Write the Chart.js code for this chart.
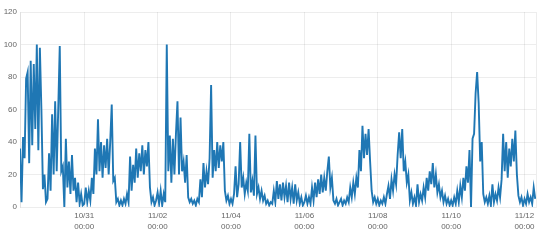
<!DOCTYPE html>
<html>
<head>
<meta charset="utf-8">
<script src="https://cdn.jsdelivr.net/npm/chart.js@4.4.1/dist/chart.umd.min.js"></script>
<style>
  html, body { margin: 0; padding: 0; background: #fff; }
  #wrap { width: 540px; height: 244px; position: relative; }
</style>
</head>
<body>
<div id="wrap"><canvas id="c"></canvas></div>
<script>
// Hours counted from 10/29 00:00; first sample at 10/29 06:00, one sample per hour.
const startHour = 6;
const axisMinHour = 6;
const axisMaxHour = 343.5;

// Hourly values
const day1029 = [36, 3, 43, 30, 79, 83, 27, 90, 38, 88, 48, 100, 35, 98, 60, 11, 20, 3];
const day1030 = [5, 33, 10, 57, 20, 65, 22, 60, 99, 22, 25, 0, 42, 12, 28, 8, 32, 10, 18, 3, 15, 2, 8, 1];
const day1031 = [2, 12, 3, 10, 4, 18, 8, 36, 20, 54, 22, 40, 18, 38, 24, 42, 20, 40, 63, 16, 18, 3, 5, 1];
const day1101 = [4, 1, 5, 2, 8, 3, 31, 10, 26, 15, 36, 18, 33, 22, 38, 20, 35, 25, 40, 12, 3, 6, 1, 4];
const day1102 = [9, 2, 10, 1, 8, 3, 100, 22, 44, 15, 42, 20, 45, 65, 20, 55, 22, 28, 15, 32, 6, 3, 5, 2];
const day1103 = [4, 1, 5, 3, 17, 6, 27, 12, 22, 14, 30, 75, 18, 35, 22, 40, 24, 38, 28, 40, 10, 4, 7, 2];
const day1104 = [5, 2, 8, 25, 6, 14, 40, 12, 18, 8, 15, 10, 45, 9, 16, 7, 44, 8, 12, 5, 10, 4, 7, 2];
const day1105 = [4, 1, 3, 2, 10, 3, 16, 5, 14, 4, 15, 6, 13, 3, 15, 5, 12, 2, 14, 4, 9, 2, 6, 1];
const day1106 = [3, 7, 2, 6, 2, 12, 4, 15, 6, 17, 8, 20, 9, 18, 10, 22, 31, 12, 18, 4, 2, 5, 1, 3];
const day1107 = [5, 1, 4, 2, 6, 3, 12, 6, 15, 8, 18, 12, 35, 22, 50, 30, 45, 32, 48, 28, 10, 3, 6, 2];
const day1108 = [5, 1, 4, 2, 6, 2, 8, 13, 5, 17, 10, 20, 14, 32, 46, 30, 48, 22, 28, 15, 20, 4, 9, 2];
const day1109 = [6, 1, 14, 3, 8, 4, 12, 6, 18, 10, 22, 14, 27, 12, 20, 9, 14, 6, 10, 3, 7, 2, 5, 1];
const day1110 = [4, 1, 6, 2, 10, 3, 13, 6, 18, 10, 25, 15, 35, 0, 42, 45, 70, 83, 64, 28, 40, 8, 3, 6];
const day1111 = [2, 7, 1, 14, 3, 8, 4, 12, 6, 17, 45, 22, 40, 18, 36, 25, 42, 28, 47, 20, 7, 3, 6, 1];
const day1112 = [5, 2, 8, 3, 6, 2, 12, 5];

const hourlyValues = [].concat(day1029, day1030, day1031, day1101, day1102, day1103, day1104,
  day1105, day1106, day1107, day1108, day1109, day1110, day1111, day1112);

// Tick labels (every two days at 00:00)
const tickHours = [48, 96, 144, 192, 240, 288, 336];
const tickDates = ['10/31', '11/02', '11/04', '11/06', '11/08', '11/10', '11/12'];
const tickTime = '00:00';

const yTicks = [0, 20, 40, 60, 80, 100, 120];

const points = hourlyValues.map((v, i) => ({ x: startHour + i, y: v }));

const gridColor = 'rgba(0,0,0,0.07)';
const tickFont = { family: 'Liberation Sans, Arial, sans-serif', size: 8 };

new Chart(document.getElementById('c'), {
  type: 'line',
  data: {
    datasets: [{
      data: points,
      borderColor: '#1f77b4',
      borderWidth: 1.9,
      pointRadius: 0,
      tension: 0,
      fill: false
    }]
  },
  options: {
    responsive: true,
    maintainAspectRatio: false,
    animation: false,
    layout: { padding: { top: 12, right: 4, left: 0, bottom: 0 } },
    plugins: { legend: { display: false }, tooltip: { enabled: false } },
    scales: {
      x: {
        type: 'linear',
        min: axisMinHour,
        max: axisMaxHour,
        afterBuildTicks: (s) => { s.ticks = tickHours.map(v => ({ value: v })); },
        afterFit: (s) => { s.height = 37; },
        grid: { color: gridColor, drawTicks: false },
        border: { display: false },
        ticks: {
          autoSkip: false,
          maxRotation: 0,
          padding: 3,
          color: '#666',
          font: Object.assign({ lineHeight: 1.4 }, tickFont),
          callback: (v) => {
            const k = tickHours.indexOf(v);
            return k >= 0 ? [tickDates[k], tickTime] : '';
          }
        }
      },
      y: {
        min: yTicks[0],
        max: yTicks[yTicks.length - 1],
        afterBuildTicks: (s) => { s.ticks = yTicks.map(v => ({ value: v })); },
        afterFit: (s) => { s.width = 20; },
        grid: { color: gridColor, drawTicks: false },
        border: { color: 'rgba(0,0,0,0.12)' },
        ticks: { padding: 3, color: '#666', font: tickFont }
      },
      yRight: {
        position: 'right',
        display: true,
        afterFit: (s) => { s.width = 0; },
        grid: { display: false, drawTicks: false },
        border: { color: 'rgba(0,0,0,0.07)' },
        ticks: { display: false }
      }
    }
  }
});
</script>
</body>
</html>
